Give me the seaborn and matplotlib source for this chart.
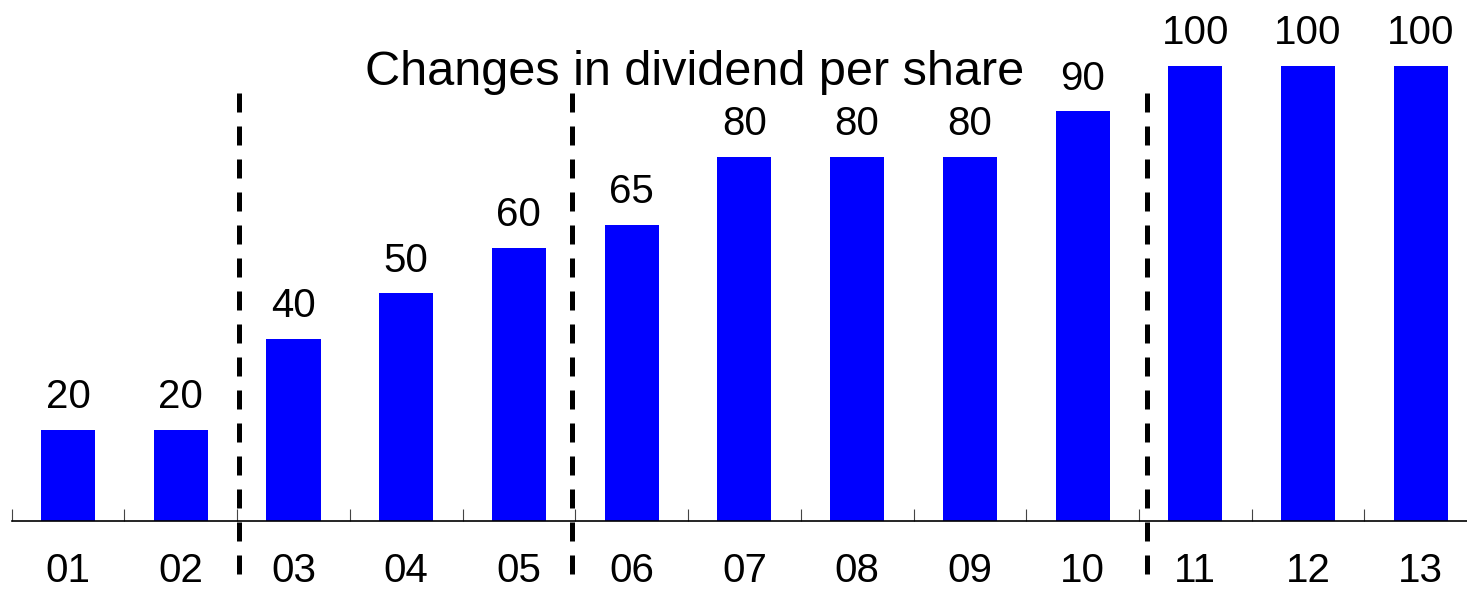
import numpy as np
import pandas as pd
import matplotlib
matplotlib.use("Agg")
import matplotlib.pyplot as plt
import seaborn as sns

# Data
periods = ["01", "02", "03", "04", "05", "06", "07", "08", "09", "10", "11", "12", "13"]
dividends = [20, 20, 40, 50, 60, 65, 80, 80, 80, 90, 100, 100, 100]
divider_positions = [1.52, 4.47, 9.57]
title_text = "Changes in dividend per share"

sns.set_style("white")
plt.rcParams['font.family'] = ['Liberation Sans', 'DejaVu Sans']
plt.rcParams['text.color'] = 'black'
plt.rcParams['xtick.labelcolor'] = 'black'

df = pd.DataFrame({"period": periods, "dividend": dividends})

fig = plt.figure(figsize=(14.67, 5.9), dpi=100)
ax = fig.add_axes([11.6 / 1467, 69 / 590, 1465.6 / 1467, 521 / 590])

sns.barplot(data=df, x="period", y="dividend", color="#0000ff",
            saturation=1, width=0.48, linewidth=0, ax=ax)
ax.set_xlim(-0.5, 12.5)
ax.set_ylim(0, 114.5)

# value labels on top of bars
ax.bar_label(ax.containers[0], labels=[str(v) for v in dividends],
             padding=10, fontsize=29, color="black")

# boundary ticks (unlabelled) and centre labels
ax.set_xticks(np.arange(-0.5, 13, 1))
ax.set_xticklabels([])
ax.set_xticks(range(len(periods)), periods, minor=True)
ax.tick_params(axis="x", which="major", direction="in", length=8.6,
               width=0.8, color="#444444", bottom=True)
ax.tick_params(axis="x", which="minor", length=0, pad=22, labelsize=29,
               labelcolor="black")
ax.set_yticks([])
ax.set_xlabel("")
ax.set_ylabel("")

for side in ["top", "left", "right"]:
    ax.spines[side].set_visible(False)
ax.spines["bottom"].set_color("black")
ax.spines["bottom"].set_linewidth(1.2)

# dashed dividers
ax.vlines(divider_positions, 94, -12.5, colors="black", linewidth=3.6,
          linestyles=[(0, (3.8, 2.8))], clip_on=False)

ax.text(5.56, 95.8, title_text, ha="center", va="baseline", fontsize=35,
        color="black")

fig.savefig("out.png", dpi=100)
